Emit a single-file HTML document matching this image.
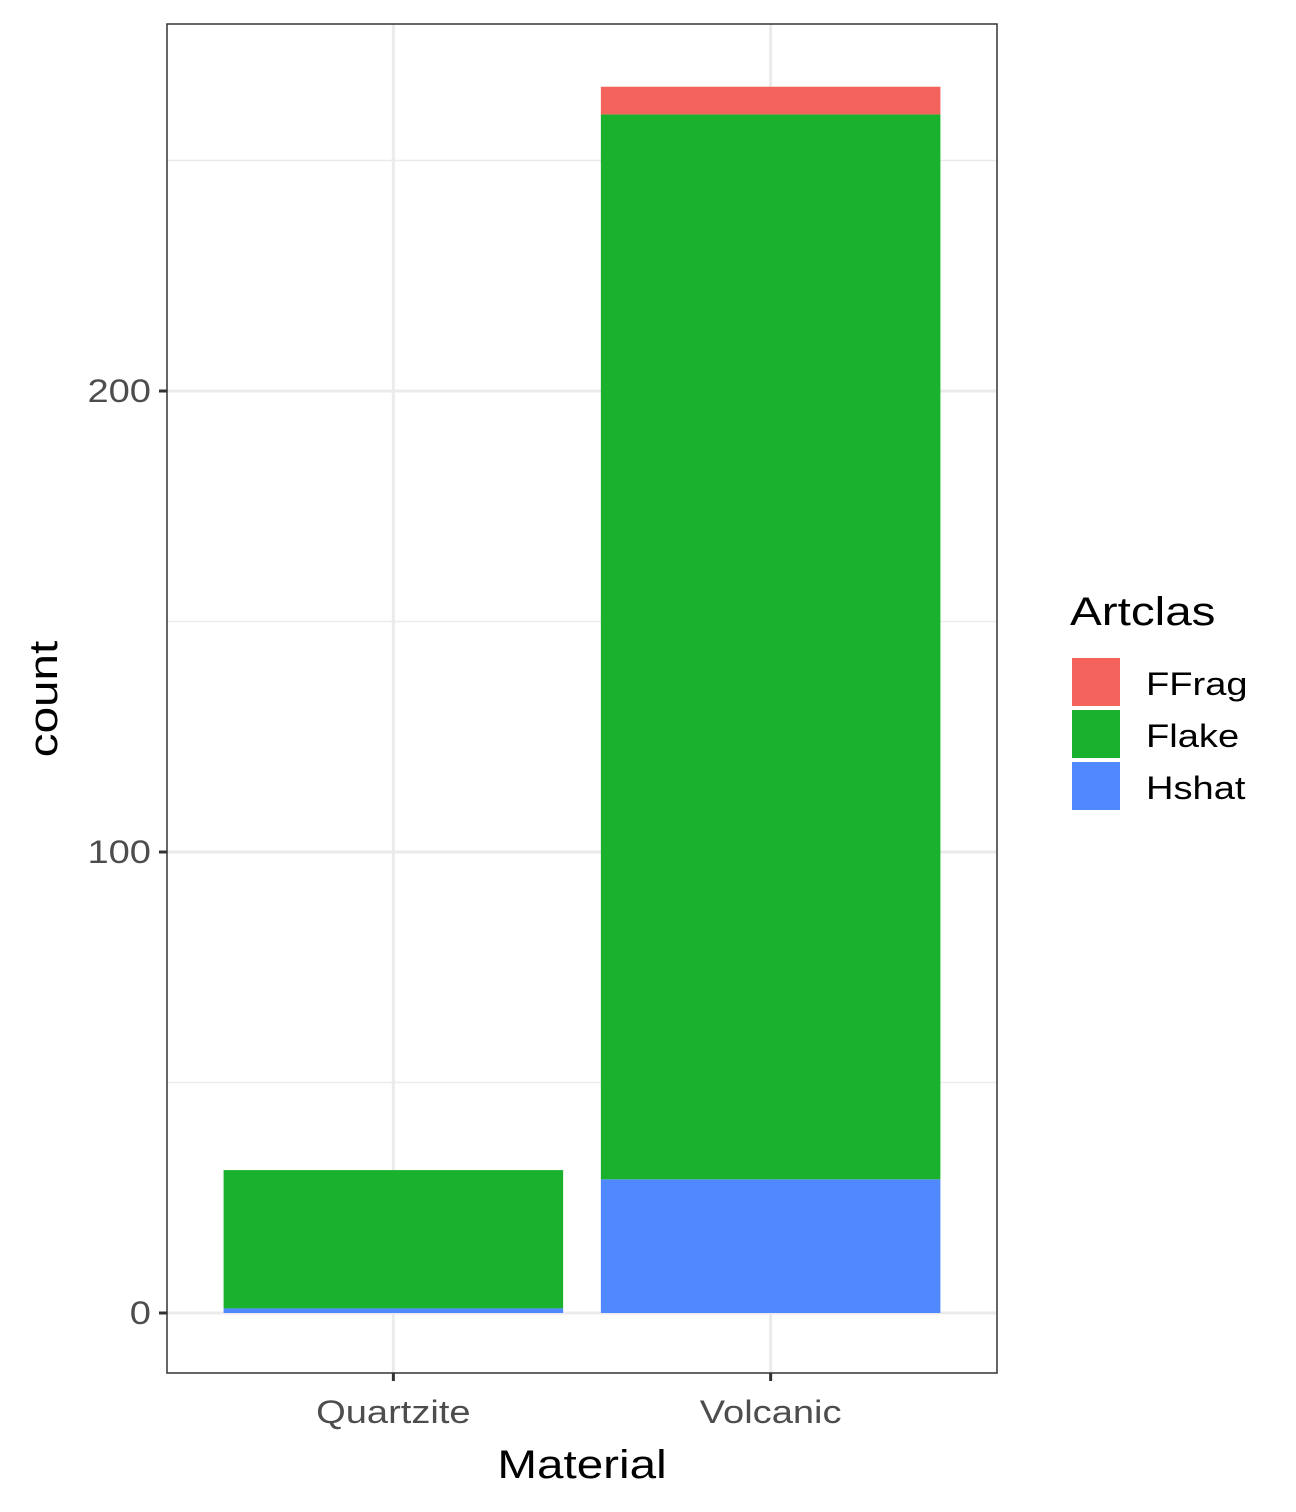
<!DOCTYPE html>
<html><head><meta charset="utf-8"><style>body{margin:0;background:#fff}svg{display:block;font-family:"Liberation Sans",Arial,sans-serif}</style></head>
<body>
<svg id="chart" width="1296" height="1512"></svg>
<script>
const categories=["Quartzite","Volcanic"];
const seriesNames=["FFrag","Flake","Hshat"];
const ffragValues=[0,6];
const flakeValues=[30,231];
const hshatValues=[1,29];
const yTicks=[0,100,200];
const yMinor=[50,150,250];
const colors={FFrag:"#F4625C",Flake:"#19B12E",Hshat:"#5088FF"};
const NS="http://www.w3.org/2000/svg";
const svg=document.getElementById('chart');
const P={l:167,r:997,t:24,b:1373};
const y=v=>1313-v*4.61;
const band=(P.r-P.l)/2.2;
const x=i=>P.l+band*(0.6+i);
const texts=[];
function mk(t,a,p){const e=document.createElementNS(NS,t);for(const k in a)e.setAttribute(k,a[k]);(p||svg).appendChild(e);if(t==='text')texts.push(e);return e;}
mk('rect',{x:P.l,y:P.t,width:P.r-P.l,height:P.b-P.t,fill:'#fff'});
yMinor.forEach(v=>{const l=mk('line',{x1:P.l,x2:P.r,y1:y(v),y2:y(v),stroke:'#ebebeb','stroke-width':1.5});

});
yTicks.forEach(v=>{const l=mk('line',{x1:P.l,x2:P.r,y1:y(v),y2:y(v),stroke:'#ebebeb','stroke-width':3});

});
categories.forEach((c,i)=>{const l=mk('line',{x1:x(i),x2:x(i),y1:P.t,y2:P.b,stroke:'#ebebeb','stroke-width':3});

});
const bw=band*0.9;
categories.forEach((c,i)=>{
  let base=0;
  [["Hshat",hshatValues],["Flake",flakeValues],["FFrag",ffragValues]].forEach(([n,arr])=>{
    const v=arr[i];if(v<=0)return;
    const r=mk('rect',{x:x(i)-bw/2,y:y(base+v),width:bw,height:y(base)-y(base+v),fill:colors[n]});
    
    
    base+=v;});
});
const fr=mk('rect',{x:P.l,y:P.t,width:P.r-P.l,height:P.b-P.t,fill:'none',stroke:'#333','stroke-width':1.5});


yTicks.forEach(v=>{mk('line',{x1:P.l-8,x2:P.l,y1:y(v),y2:y(v),stroke:'#333','stroke-width':3});
const t=mk('text',{x:P.l-16,y:y(v)+11,'text-anchor':'end','font-size':32,fill:'#4d4d4d'});t.textContent=v;

});
categories.forEach((c,i)=>{mk('line',{x1:x(i),x2:x(i),y1:P.b,y2:P.b+8,stroke:'#333','stroke-width':3});
const t=mk('text',{x:x(i),y:1423,'text-anchor':'middle','font-size':32,fill:'#4d4d4d'});t.textContent=c;

});
const xt=mk('text',{x:582,y:1478,'text-anchor':'middle','font-size':40,fill:'#000'});xt.textContent='Material';


const yt=mk('text',{x:0,y:0,transform:'translate(57,699) rotate(-90)','text-anchor':'middle','font-size':40,fill:'#000'});yt.textContent='count';


const lt=mk('text',{x:1070,y:625,'font-size':40,fill:'#000'});lt.textContent='Artclas';


seriesNames.forEach((n,i)=>{const g=mk('g',{});


mk('rect',{x:1072,y:658+i*52,width:48,height:48,fill:colors[n]},g);
const t=mk('text',{x:1146,y:695+i*52,'font-size':32,fill:'#000'},g);t.textContent=n;});
texts.forEach(t=>{const w=t.getComputedTextLength();t.setAttribute('textLength',w*1.19);t.setAttribute('lengthAdjust','spacingAndGlyphs');});
</script>
</body></html>
